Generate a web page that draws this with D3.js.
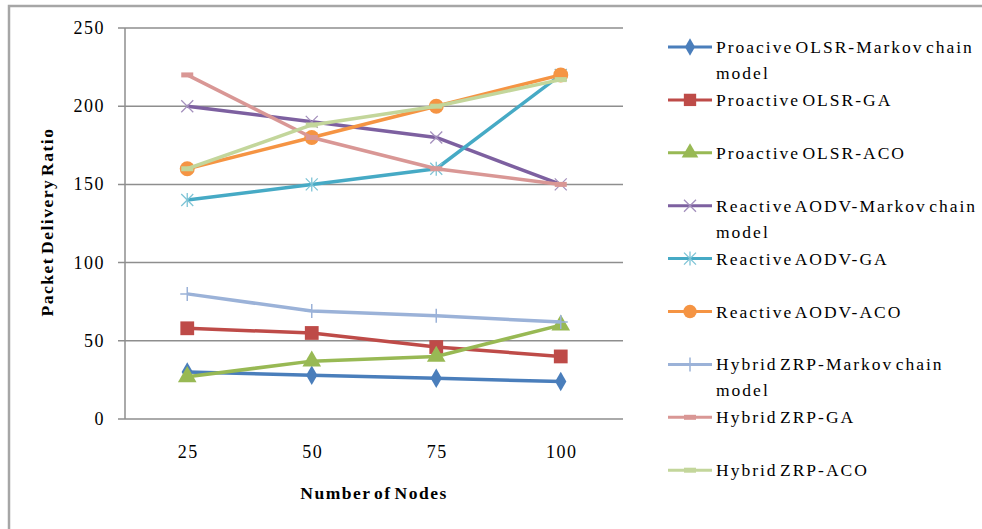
<!DOCTYPE html>
<html>
<head>
<meta charset="UTF-8">
<title>Packet Delivery Ratio</title>
<script src="https://d3js.org/d3.v7.min.js"></script>
<style>
  body { margin: 0; background: #fff; }
  text { font-family: "Liberation Serif", "Times New Roman", serif; fill: #000; }
</style>
</head>
<body>
<svg id="chart"></svg>
<script>
const nodes = [25, 50, 75, 100];
const yTicks = [0, 50, 100, 150, 200, 250];

const seriesNames = [
  "Proacive OLSR-Markov chain model",
  "Proactive OLSR-GA",
  "Proactive OLSR-ACO",
  "Reactive AODV-Markov chain model",
  "Reactive AODV-GA",
  "Reactive AODV-ACO",
  "Hybrid ZRP-Markov chain model",
  "Hybrid ZRP-GA",
  "Hybrid ZRP-ACO"
];

const olsrMarkov = [30, 28, 26, 24];
const olsrGA = [58, 55, 46, 40];
const olsrACO = [27, 37, 40, 60];
const aodvMarkov = [200, 190, 180, 150];
const aodvGA = [140, 150, 160, 220];
const aodvACO = [160, 180, 200, 220];
const zrpMarkov = [80, 69, 66, 62];
const zrpGA = [220, 180, 160, 150];
const zrpACO = [160, 188, 200, 217];

const seriesValues = [olsrMarkov, olsrGA, olsrACO, aodvMarkov, aodvGA, aodvACO, zrpMarkov, zrpGA, zrpACO];
const colors = ["#4a7ebb", "#be4b48", "#98b954", "#7d60a0", "#46aac5", "#f59443", "#9bb2d8", "#d99795", "#c3d69b"];
const markers = ["diamond", "square", "triangle", "x", "star", "circle", "plus", "dash", "dash"];

const W = 982, H = 529;
const plot = {left: 125, right: 623, top: 28, bottom: 419};

const svg = d3.select("#chart").attr("width", W).attr("height", H);

// outer frame
svg.append("rect")
  .attr("x", 9).attr("y", 6).attr("width", 1000).attr("height", 600)
  .attr("fill", "none").attr("stroke", "#a6a6a6").attr("stroke-width", 2.5);

const x = d3.scalePoint().domain(nodes).range([plot.left, plot.right]).padding(0.5);
const y = d3.scaleLinear().domain([0, 250]).range([plot.bottom, plot.top]);

// gridlines
svg.append("g").selectAll("line")
  .data(yTicks)
  .join("line")
  .attr("x1", plot.left - 7).attr("x2", plot.right)
  .attr("y1", d => y(d)).attr("y2", d => y(d))
  .attr("stroke", "#8e8e8e").attr("stroke-width", 1.5);

svg.append("line")
  .attr("x1", plot.left).attr("x2", plot.left)
  .attr("y1", plot.top).attr("y2", plot.bottom)
  .attr("stroke", "#8e8e8e").attr("stroke-width", 1.5);

// y tick labels
svg.append("g").selectAll("text")
  .data(yTicks)
  .join("text")
  .attr("x", 105).attr("y", d => y(d) + 6)
  .attr("text-anchor", "end")
  .attr("font-size", "18px")
  .attr("letter-spacing", "1.5px")
  .text(d => d);

// x tick labels
svg.append("g").selectAll("text")
  .data(nodes)
  .join("text")
  .attr("x", d => x(d) + 1).attr("y", 458)
  .attr("text-anchor", "middle")
  .attr("font-size", "18px")
  .attr("letter-spacing", "1.5px")
  .text(d => d);

// axis titles
svg.append("text")
  .attr("x", 374).attr("y", 499)
  .attr("text-anchor", "middle")
  .attr("font-size", "17.5px").attr("font-weight", "bold")
  .attr("letter-spacing", "1.5px").attr("word-spacing", "-3px")
  .text("Number of Nodes");

svg.append("text")
  .attr("transform", "translate(53,222) rotate(-90)")
  .attr("text-anchor", "middle")
  .attr("font-size", "17.5px").attr("font-weight", "bold")
  .attr("letter-spacing", "1.5px").attr("word-spacing", "-3px")
  .text("Packet Delivery Ratio");

function drawMarker(g, type, color, big) {
  const s = big ? 1 : 0.8;
  if (type === "diamond") {
    g.append("path").attr("d", d3.symbol(d3.symbolDiamond, 110 * s)()).attr("fill", color);
  } else if (type === "square") {
    g.append("path").attr("d", d3.symbol(d3.symbolSquare, 190 * s)()).attr("fill", color);
  } else if (type === "triangle") {
    g.append("path").attr("d", d3.symbol(d3.symbolTriangle, 150 * s)()).attr("fill", color);
  } else if (type === "circle") {
    g.append("circle").attr("r", 7.5 * Math.sqrt(s)).attr("fill", color);
  } else if (type === "x" || type === "star") {
    const r = 6;
    const lc = d3.interpolateRgb(color, "#ffffff")(0.3);
    g.append("path").attr("d", `M${-r},${-r}L${r},${r}M${-r},${r}L${r},${-r}`)
      .attr("stroke", lc).attr("stroke-width", 1.3).attr("fill", "none");
    if (type === "star") {
      g.append("path").attr("d", `M0,${-r - 1}L0,${r + 1}`)
        .attr("stroke", lc).attr("stroke-width", 1.3);
    }
  } else if (type === "plus") {
    const r = 7;
    g.append("path").attr("d", `M${-r},0L${r},0M0,${-r}L0,${r}`)
      .attr("stroke", color).attr("stroke-width", 1.5).attr("fill", "none");
  } else if (type === "dash") {
    g.append("rect").attr("x", -6).attr("y", -2.5).attr("width", 12).attr("height", 5)
      .attr("fill", color);
  }
}

const line = d3.line().x((d, i) => x(nodes[i])).y(d => y(d));

seriesValues.forEach((vals, k) => {
  const g = svg.append("g");
  g.append("path")
    .datum(vals)
    .attr("d", line)
    .attr("fill", "none")
    .attr("stroke", colors[k])
    .attr("stroke-width", 3.5)
    .attr("stroke-linejoin", "round");
  vals.forEach((v, i) => {
    const m = g.append("g").attr("transform", `translate(${x(nodes[i])},${y(v)})`);
    drawMarker(m, markers[k], colors[k], true);
  });
});

// legend
const legend = svg.append("g");
seriesNames.forEach((name, k) => {
  const ly = 47 + k * 52.9;
  legend.append("line")
    .attr("x1", 668).attr("x2", 712).attr("y1", ly).attr("y2", ly)
    .attr("stroke", colors[k]).attr("stroke-width", 3);
  const m = legend.append("g").attr("transform", `translate(690,${ly})`);
  drawMarker(m, markers[k], colors[k], false);

  const words = name.split(" ");
  const lines = [];
  let cur = "";
  words.forEach(w => {
    const t = cur ? cur + " " + w : w;
    if (t.length > 26) { lines.push(cur); cur = w; } else { cur = t; }
  });
  lines.push(cur);
  lines.forEach((ln, j) => {
    legend.append("text")
      .attr("x", 716).attr("y", ly + 6 + j * 26)
      .attr("font-size", "17.5px")
      .attr("letter-spacing", "2px")
      .attr("word-spacing", "-4px")
      .text(ln);
  });
});
</script>
</body>
</html>
